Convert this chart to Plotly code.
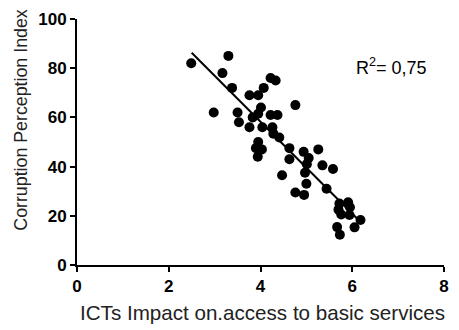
import plotly.graph_objects as go

# ICT impact score vs. corruption perception index, one point per country
ict_impact = [
    2.49, 3.30, 3.17, 3.38, 2.98, 3.76, 3.95, 4.07, 4.22, 4.33,
    4.76, 3.50, 3.53, 4.01, 3.95, 3.83, 3.76, 4.04, 4.22, 4.37,
    4.26, 4.28, 4.41, 3.95, 3.90, 4.03, 3.94, 4.63, 4.63, 4.94,
    5.05, 5.26, 5.01, 4.97, 5.35, 5.58, 4.47, 5.00, 4.76, 4.95,
    5.44, 5.72, 5.91, 5.95, 5.76, 5.94, 6.18, 6.05, 5.67, 5.73,
    5.70,
]
cpi = [
    82, 85, 78, 72, 62, 69, 69, 72, 76, 75,
    65, 62, 58, 64, 61.5, 60, 56, 56, 61, 61,
    56, 53.4, 51.8, 50, 47.5, 47, 44, 47.5, 43, 46,
    43.5, 47, 41, 37.5, 40.5, 39, 36.5, 33, 29.5, 28.5,
    31, 25, 25.5, 23.5, 20.5, 20.3, 18.3, 15.3, 15.4, 12.3,
    22.5,
]

# Linear fit endpoints (slope/intercept of the regression line)
fit_x = [2.50, 6.18]
fit_y = [86.3, 17.5]
r_squared = "0,75"

x_ticks = [0, 2, 4, 6, 8]
y_ticks = [0, 20, 40, 60, 80, 100]

x_title = "ICTs Impact on.access to basic services"
y_title = "Corruption Perception Index"

font_family = "Arial, Liberation Sans, sans-serif"

fig = go.Figure()
fig.add_trace(go.Scatter(
    x=fit_x, y=fit_y, mode="lines",
    line=dict(color="black", width=2),
    showlegend=False, hoverinfo="skip",
))
fig.add_trace(go.Scatter(
    x=ict_impact, y=cpi, mode="markers",
    marker=dict(color="black", size=10, line=dict(width=0)),
    showlegend=False,
))

fig.add_annotation(
    x=6.04, y=80.5, xref="x", yref="y",
    text=f"R<sup>2</sup>= {r_squared}",
    showarrow=False, xanchor="left", yanchor="middle",
    font=dict(family=font_family, size=18, color="black"),
)

# Axis titles placed as annotations
fig.add_annotation(
    x=0.506, y=-0.193, xref="paper", yref="paper",
    text=x_title, showarrow=False,
    xanchor="center", yanchor="middle",
    font=dict(family=font_family, size=20.6, color="#222"),
)
fig.add_annotation(
    x=-0.153, y=0.59, xref="paper", yref="paper",
    text=y_title, showarrow=False, textangle=-90,
    xanchor="center", yanchor="middle",
    font=dict(family=font_family, size=17.8, color="#222"),
)

axis_common = dict(
    showgrid=False, zeroline=False,
    showline=True, linecolor="black", linewidth=2,
    ticks="outside", ticklen=5, tickwidth=2, tickcolor="black",
    tickfont=dict(family=font_family, size=17, color="black", weight="bold"),
)

fig.update_xaxes(range=[0, 8], tickvals=x_ticks, **axis_common)
fig.update_yaxes(range=[0, 100], tickvals=y_ticks, **axis_common)

fig.update_layout(
    width=459, height=330,
    margin=dict(l=77, r=10, t=16, b=65),
    plot_bgcolor="white", paper_bgcolor="white",
    font=dict(family=font_family, color="black"),
)

fig.write_html("out.html")
